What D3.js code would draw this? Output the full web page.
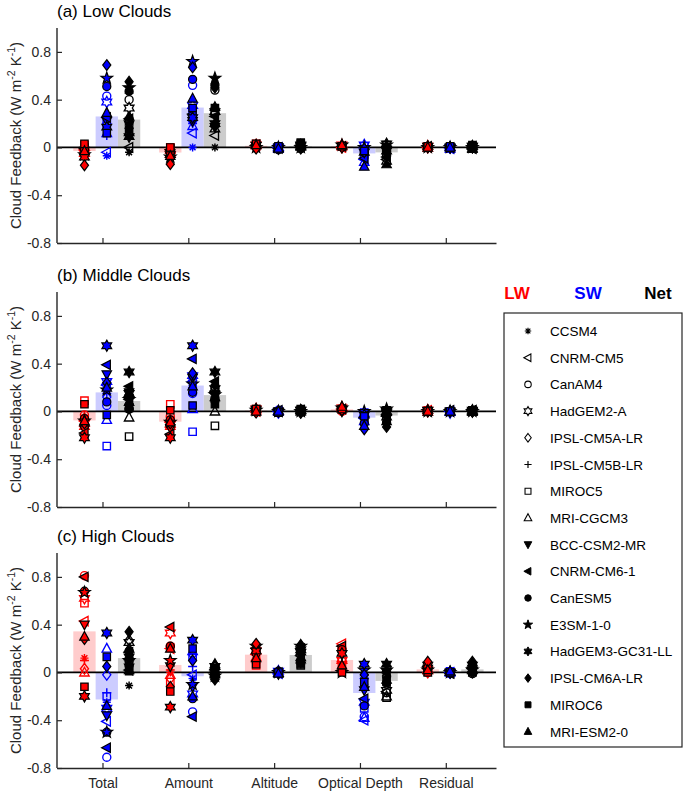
<!DOCTYPE html>
<html>
<head>
<meta charset="utf-8">
<script src="https://cdn.jsdelivr.net/npm/d3@7"></script>
<style>
  html, body { margin: 0; padding: 0; background: #fff; }
  svg { display: block; font-family: "Liberation Sans", Arial, Helvetica, sans-serif; }
</style>
</head>
<body>
<svg id="chart" width="685" height="796"></svg>
<script>
// ---------------- DATA ----------------
const categories = ["Total", "Amount", "Altitude", "Optical Depth", "Residual"];
const models = ["CCSM4", "CNRM-CM5", "CanAM4", "HadGEM2-A", "IPSL-CM5A-LR", "IPSL-CM5B-LR", "MIROC5", "MRI-CGCM3",
                "BCC-CSM2-MR", "CNRM-CM6-1", "CanESM5", "E3SM-1-0", "HadGEM3-GC31-LL", "IPSL-CM6A-LR", "MIROC6", "MRI-ESM2-0"];
const markerTypes = ["asterisk", "triLeft", "circle", "hexagram", "diamond", "plus", "square", "triUp",
                     "triDown", "triLeft", "circle", "pentagram", "hexagram", "diamond", "square", "triUp"];
const markerFilled = [false, false, false, false, false, false, false, false,
                      true, true, true, true, true, true, true, true];
const panelTitles = ["(a) Low Clouds", "(b) Middle Clouds", "(c) High Clouds"];
const yTicks = [-0.8, -0.4, 0, 0.4, 0.8];
const components = ["LW", "SW", "Net"];

// values: [category][model]
const lowLW = [
  [-0.03,-0.02,0.00,-0.05,-0.04,-0.02,0.02,0.01,-0.03,-0.01,-0.02,-0.06,-0.08,-0.15,0.03,-0.03],
  [-0.03,-0.02,-0.01,-0.06,-0.05,-0.03,0.00,-0.02,-0.05,-0.02,-0.04,-0.08,-0.06,-0.14,0.00,-0.07],
  [0.01,0.02,0.01,0.02,0.00,0.01,0.03,0.02,0.01,0.02,0.01,0.00,0.02,-0.01,0.03,0.02],
  [0.01,0.00,0.01,0.02,0.00,0.01,0.01,0.01,0.00,0.01,0.01,0.02,0.01,0.00,0.01,0.02],
  [0.01,0.00,0.00,0.01,0.00,0.00,0.01,0.00,0.00,0.01,0.00,0.00,0.01,0.00,0.01,0.00]
];
const lowSW = [
  [-0.07,-0.04,0.43,0.38,0.20,0.10,0.20,0.12,0.22,0.25,0.51,0.58,0.17,0.69,0.12,0.29],
  [0.00,0.12,0.52,0.35,0.22,0.20,0.30,0.18,0.22,0.28,0.57,0.72,0.25,0.67,0.33,0.41],
  [-0.01,0.00,-0.01,0.00,0.00,-0.01,0.00,-0.01,0.00,-0.01,-0.02,0.00,-0.01,0.00,0.01,-0.01],
  [-0.05,-0.10,-0.08,0.02,-0.03,-0.06,0.01,-0.12,-0.02,-0.09,-0.04,0.00,-0.04,-0.01,-0.03,-0.16],
  [0.00,-0.01,0.00,0.00,0.00,0.00,0.00,-0.01,0.00,0.00,0.00,0.00,0.00,0.00,0.01,0.00]
];
const lowNet = [
  [-0.04,0.00,0.40,0.33,0.16,0.08,0.22,0.13,0.19,0.24,0.47,0.50,0.09,0.55,0.15,0.26],
  [0.00,0.10,0.48,0.30,0.18,0.17,0.30,0.16,0.17,0.26,0.52,0.58,0.20,0.50,0.33,0.34],
  [0.00,0.02,0.00,0.02,0.00,0.00,0.03,0.01,0.01,0.01,-0.01,0.00,0.01,-0.01,0.04,0.01],
  [-0.04,-0.10,-0.07,0.03,-0.03,-0.05,0.02,-0.11,-0.02,-0.08,-0.03,0.02,-0.03,-0.01,-0.02,-0.14],
  [0.01,-0.01,0.00,0.01,0.00,0.00,0.01,-0.01,0.00,0.01,0.00,0.00,0.01,0.00,0.02,0.00]
];
const midLW = [
  [-0.05,-0.08,-0.03,-0.10,-0.06,-0.04,0.09,-0.12,-0.15,-0.18,-0.06,-0.08,-0.22,-0.10,0.06,-0.08],
  [-0.06,-0.09,-0.04,-0.11,-0.07,-0.05,0.06,-0.12,-0.14,-0.19,-0.07,-0.09,-0.22,-0.10,0.01,-0.09],
  [0.01,0.00,0.01,0.02,0.00,0.00,0.02,0.01,0.00,0.01,0.00,0.01,0.02,-0.01,0.02,0.00],
  [0.01,0.02,0.00,0.03,0.01,0.01,0.02,0.04,0.00,0.02,0.01,0.03,0.02,0.01,0.02,0.04],
  [0.00,0.01,0.00,0.01,0.00,0.00,0.01,0.00,0.00,0.00,0.00,0.00,0.01,0.00,0.00,0.00]
];
const midSW = [
  [0.20,0.22,0.05,0.25,0.12,0.15,-0.29,-0.07,0.31,0.39,0.08,0.18,0.55,0.24,-0.03,0.20],
  [0.22,0.25,0.15,0.30,0.26,0.20,-0.17,0.02,0.28,0.44,0.16,0.23,0.55,0.32,0.05,0.21],
  [0.00,0.00,0.01,0.00,-0.01,0.00,0.00,0.00,0.00,0.01,0.00,0.00,0.00,0.00,-0.01,0.00],
  [-0.04,-0.06,-0.03,-0.02,-0.05,-0.03,-0.01,-0.08,-0.02,-0.05,-0.10,0.00,-0.03,-0.15,-0.04,-0.12],
  [0.00,0.00,0.00,-0.01,0.00,0.00,0.00,0.00,0.00,0.01,0.00,0.00,0.00,0.00,0.00,0.00]
];
const midNet = [
  [0.15,0.10,0.02,0.15,0.06,0.11,-0.21,-0.05,0.16,0.21,0.02,0.10,0.33,0.14,0.03,0.08],
  [0.16,0.16,0.11,0.19,0.19,0.15,-0.12,0.00,0.14,0.25,0.09,0.14,0.33,0.22,0.06,0.12],
  [0.01,0.00,0.01,0.01,-0.01,0.00,0.02,0.01,0.00,0.01,0.00,0.00,0.01,-0.01,0.01,0.00],
  [-0.03,-0.04,-0.03,0.00,-0.04,-0.02,0.01,-0.04,-0.02,-0.03,-0.09,0.02,-0.01,-0.13,-0.02,-0.08],
  [0.00,0.01,0.00,0.00,0.00,0.00,0.01,0.00,0.00,0.01,0.00,0.00,0.01,0.00,0.00,0.00]
];
const highLW = [
  [0.12,0.43,0.81,0.62,0.03,0.10,0.58,0.00,0.40,0.80,0.68,0.67,-0.20,0.28,-0.12,0.30],
  [0.00,0.20,0.22,0.33,-0.05,0.02,-0.08,-0.02,0.05,0.38,0.22,0.10,-0.29,-0.12,-0.16,0.20],
  [0.12,0.15,0.20,0.18,0.10,0.08,0.06,0.13,0.17,0.20,0.16,0.22,0.18,0.24,0.07,0.12],
  [0.05,0.24,0.20,0.10,0.02,0.08,0.05,0.12,0.15,0.22,0.19,0.00,0.16,0.03,0.00,0.06],
  [0.01,0.03,0.00,0.02,0.00,0.01,0.04,0.02,0.03,0.05,0.01,0.02,0.06,0.09,0.00,0.02]
];
const highSW = [
  [-0.25,-0.41,-0.71,-0.30,-0.02,-0.17,-0.20,0.20,-0.36,-0.63,-0.50,-0.50,0.33,0.05,0.13,-0.28],
  [-0.05,-0.02,-0.33,-0.18,0.15,0.05,0.13,0.18,-0.12,-0.37,-0.22,-0.10,0.27,0.10,0.20,-0.20],
  [0.00,-0.01,0.00,0.01,0.00,-0.01,0.00,0.00,-0.01,0.00,0.01,0.00,-0.01,0.00,0.00,-0.01],
  [-0.10,-0.40,-0.37,-0.25,-0.05,-0.12,-0.30,-0.38,-0.15,-0.22,-0.28,0.02,0.07,-0.02,-0.08,-0.12],
  [0.00,0.00,-0.01,0.00,0.00,0.00,0.01,0.00,0.00,-0.01,0.00,0.00,0.00,0.00,0.00,0.01]
];
const highNet = [
  [-0.11,0.02,0.10,0.25,0.27,0.12,0.08,0.20,0.04,0.17,0.18,0.10,0.13,0.34,0.01,0.02],
  [-0.04,0.02,-0.05,0.05,0.06,0.03,0.00,0.07,-0.05,0.00,-0.02,-0.03,-0.02,-0.06,0.04,0.00],
  [0.12,0.14,0.20,0.19,0.10,0.07,0.06,0.13,0.16,0.20,0.17,0.22,0.17,0.23,0.07,0.11],
  [-0.05,-0.16,-0.17,-0.15,-0.03,-0.04,-0.21,-0.20,0.00,0.00,-0.09,0.02,0.07,0.01,-0.08,-0.06],
  [0.01,0.03,-0.01,0.02,0.00,0.01,0.05,0.02,0.03,0.04,0.01,0.02,0.06,0.09,0.00,0.03]
];

const panelData = [
  [lowLW, lowSW, lowNet],
  [midLW, midSW, midNet],
  [highLW, highSW, highNet]
];

// ---------------- STYLE / LAYOUT ----------------
const compColors = ["#ff0000", "#0000ff", "#000000"];
const barColors = ["#ffcccc", "#ccccff", "#cccccc"];
const compOffset = [-0.21, 0.05, 0.31];
const barWidth = 0.26;
const axisColor = "#262626";
const panelTop = [28, 292, 553];
const panelH = 215;
const xLeft = 57, xRight = 496;
const mScale = 1.12;

const svg = d3.select("#chart");
const x = d3.scaleLinear().domain([0.47, 5.585]).range([xLeft, xRight]);

function starPath(n, rOut, rIn, rot) {
  const pts = [];
  for (let i = 0; i < 2 * n; i++) {
    const r = i % 2 === 0 ? rOut : rIn;
    const a = rot + i * Math.PI / n;
    pts.push([r * Math.sin(a), -r * Math.cos(a)]);
  }
  return "M" + pts.map(p => p[0].toFixed(2) + "," + p[1].toFixed(2)).join("L") + "Z";
}
function markerPath(type) {
  switch (type) {
    case "circle": return d3.symbol(d3.symbolCircle, Math.PI * 3.6 * 3.6)();
    case "square": return "M-3.3,-3.3L3.3,-3.3L3.3,3.3L-3.3,3.3Z";
    case "diamond": return "M0,-4.8L3.6,0L0,4.8L-3.6,0Z";
    case "triUp": return "M0,-4.6L4.2,3.2L-4.2,3.2Z";
    case "triDown": return "M0,4.6L4.2,-3.2L-4.2,-3.2Z";
    case "triLeft": return "M-4.6,0L3.2,-4.2L3.2,4.2Z";
    case "pentagram": return starPath(5, 5.4, 2.2, 0);
    case "hexagram": return starPath(6, 5.0, 2.9, 0);
    case "plus": return "M-4,0L4,0M0,-4L0,4";
    case "asterisk": return "M-3.6,0L3.6,0M0,-3.6L0,3.6M-2.6,-2.6L2.6,2.6M-2.6,2.6L2.6,-2.6";
  }
  return "";
}
function styleMarker(sel, mi, color) {
  const t = markerTypes[mi];
  if (t === "plus" || t === "asterisk") {
    sel.attr("fill", "none").attr("stroke", color).attr("stroke-width", 1.3);
  } else if (markerFilled[mi]) {
    sel.attr("fill", color).attr("stroke", "#000").attr("stroke-width", 1.1);
  } else {
    sel.attr("fill", "none").attr("stroke", color).attr("stroke-width", 1.2);
  }
}

// ---------------- PANELS ----------------
panelData.forEach((comps, p) => {
  const top = panelTop[p];
  const y = d3.scaleLinear().domain([-0.8, 1.0]).range([top + panelH, top]);
  const g = svg.append("g");

  // bars (multi-model means)
  comps.forEach((vals, c) => {
    g.append("g").selectAll("rect")
      .data(categories.map((cat, k) => ({k, m: d3.mean(vals[k])})))
      .join("rect")
      .attr("x", d => x(d.k + 1 + compOffset[c] - barWidth / 2))
      .attr("width", d => x(d.k + 1 + compOffset[c] + barWidth / 2) - x(d.k + 1 + compOffset[c] - barWidth / 2))
      .attr("y", d => Math.min(y(0), y(d.m)))
      .attr("height", d => Math.abs(y(0) - y(d.m)))
      .attr("fill", barColors[c]);
  });

  // zero line
  g.append("line")
    .attr("x1", xLeft).attr("x2", xRight)
    .attr("y1", y(0)).attr("y2", y(0))
    .attr("stroke", "#000").attr("stroke-width", 1.8);

  // axes
  const ya = g.append("g").attr("transform", `translate(${xLeft},0)`)
    .call(d3.axisLeft(y).tickValues(yTicks).tickSize(-5).tickSizeOuter(0).tickPadding(6)
      .tickFormat(d => d === 0 ? "0" : String(d)));
  const xa = g.append("g").attr("transform", `translate(0,${top + panelH})`)
    .call(d3.axisBottom(x).tickValues([1, 2, 3, 4, 5]).tickSize(-5).tickSizeOuter(0).tickPadding(10)
      .tickFormat(d => p === 2 ? categories[d - 1] : ""));
  [ya, xa].forEach(a => {
    a.select(".domain").attr("stroke", axisColor).attr("stroke-width", 1.4);
    a.selectAll(".tick line").attr("stroke", axisColor).attr("stroke-width", 1.2);
    a.selectAll(".tick text").attr("fill", axisColor).attr("font-size", 14)
      .attr("font-family", "Liberation Sans, Arial, sans-serif");
  });
  ya.select(".domain").attr("d", `M0,${y(-0.8)}V${y(1.0)}`);

  // markers
  comps.forEach((vals, c) => {
    models.forEach((m, mi) => {
      const pts = categories.map((cat, k) => ({k, v: vals[k][mi]}));
      const sel = g.append("g").selectAll("path")
        .data(pts).join("path")
        .attr("d", markerPath(markerTypes[mi]))
        .attr("transform", d => `translate(${x(d.k + 1 + compOffset[c])},${y(d.v)}) scale(${mScale})`);
      styleMarker(sel, mi, compColors[c]);
    });
  });

  // title
  g.append("text")
    .attr("x", xLeft).attr("y", top - 11)
    .attr("font-size", 17).attr("fill", "#000")
    .text(panelTitles[p]);

  // y label
  const yl = g.append("text")
    .attr("transform", `translate(21,${top + panelH / 2}) rotate(-90)`)
    .attr("text-anchor", "middle")
    .attr("font-size", 15).attr("fill", axisColor);
  yl.append("tspan").text("Cloud Feedback (W m");
  yl.append("tspan").attr("dy", -6).attr("font-size", 10.5).text("-2");
  yl.append("tspan").attr("dy", 6).text(" K");
  yl.append("tspan").attr("dy", -6).attr("font-size", 10.5).text("-1");
  yl.append("tspan").attr("dy", 6).text(")");
});

// ---------------- LEGEND ----------------
const legHeadX = [517, 588, 658];
components.forEach((c, i) => {
  svg.append("text")
    .attr("x", legHeadX[i]).attr("y", 299)
    .attr("text-anchor", "middle")
    .attr("font-size", 17).attr("font-weight", "bold")
    .attr("fill", compColors[i])
    .text(c);
});
svg.append("rect")
  .attr("x", 504).attr("y", 313).attr("width", 178).attr("height", 434)
  .attr("fill", "#fff").attr("stroke", axisColor).attr("stroke-width", 1.2);
const legY = d3.scaleLinear().domain([0, models.length - 1]).range([331, 731.5]);
models.forEach((m, mi) => {
  const gy = legY(mi);
  const mk = svg.append("path")
    .attr("d", markerPath(markerTypes[mi]))
    .attr("transform", `translate(528,${gy}) scale(0.9)`);
  styleMarker(mk, mi, "#000");
  svg.append("text")
    .attr("x", 550).attr("y", gy + 5)
    .attr("font-size", 13.5).attr("fill", "#000")
    .text(m);
});
</script>
</body>
</html>
